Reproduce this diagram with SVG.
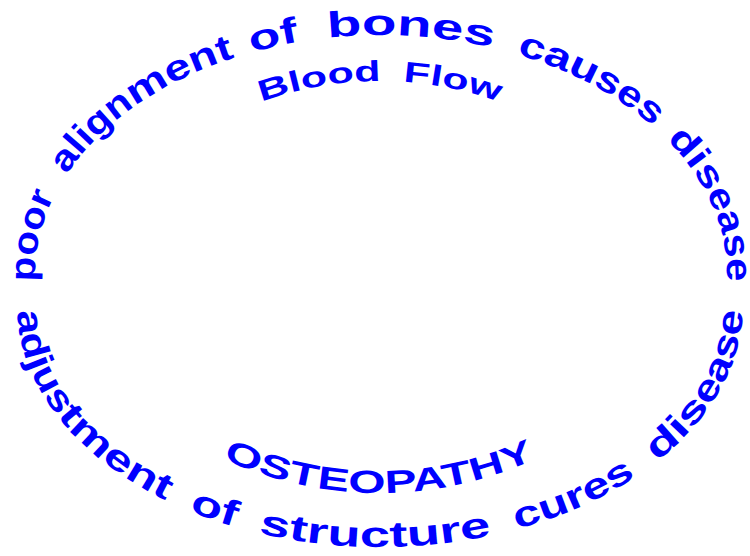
<svg xmlns="http://www.w3.org/2000/svg" xmlns:xlink="http://www.w3.org/1999/xlink" width="750" height="556" viewBox="0 0 750 556">
<style>
.t{font-family:"Liberation Sans",Arial,sans-serif;font-weight:bold;fill:#0000ff}
.o{font-size:36px}
</style>
<defs>
<path id="pu" d="M 35.119 281.281 A 346 240 0 1 1 726.881 281.281" fill="none"/>
<path id="pl" d="M 17.124 311.333 A 363 242 0 0 0 742.876 311.333" fill="none"/>
<path id="pb" d="M 156 162.5 A 348.5 348.5 0 0 1 604 162.5" fill="none"/>
<path id="po" d="M 138.6 405.5 A 374 374 0 0 0 619.4 405.5" fill="none"/>
</defs>
<rect width="750" height="556" fill="#ffffff"/>
<g id="outer-top">
<text class="t o"><textPath href="#pu" startOffset="0" textLength="88.76" lengthAdjust="spacingAndGlyphs">poor</textPath><textPath href="#pu" startOffset="95"> </textPath><textPath href="#pu" startOffset="113.04" textLength="96.99" lengthAdjust="spacingAndGlyphs">align</textPath><textPath href="#pu" startOffset="210.03" textLength="111.77" lengthAdjust="spacingAndGlyphs">ment</textPath><textPath href="#pu" startOffset="328"> </textPath><textPath href="#pu" startOffset="339.15" textLength="48.85" lengthAdjust="spacingAndGlyphs">of</textPath><textPath href="#pu" startOffset="400"> </textPath><textPath href="#pu" startOffset="416.68" textLength="166.08" lengthAdjust="spacingAndGlyphs">bones</textPath><textPath href="#pu" startOffset="593"> </textPath><textPath href="#pu" startOffset="607.26" textLength="82.20" lengthAdjust="spacingAndGlyphs">cau</textPath><textPath href="#pu" startOffset="689.46" textLength="73.74" lengthAdjust="spacingAndGlyphs">ses</textPath><textPath href="#pu" startOffset="770"> </textPath><textPath href="#pu" startOffset="781.40" textLength="66.71" lengthAdjust="spacingAndGlyphs">dis</textPath><textPath href="#pu" startOffset="848.11" textLength="92.30" lengthAdjust="spacingAndGlyphs">ease</textPath></text>
</g>
<g id="outer-bottom">
<text class="t o"><textPath href="#pl" startOffset="0" textLength="113.67" lengthAdjust="spacingAndGlyphs">adjus</textPath><textPath href="#pl" startOffset="113.67" textLength="138.72" lengthAdjust="spacingAndGlyphs">tment</textPath><textPath href="#pl" startOffset="262"> </textPath><textPath href="#pl" startOffset="277.72" textLength="48.10" lengthAdjust="spacingAndGlyphs">of</textPath><textPath href="#pl" startOffset="336"> </textPath><textPath href="#pl" startOffset="350.78" textLength="132.44" lengthAdjust="spacingAndGlyphs">struc</textPath><textPath href="#pl" startOffset="483.22" textLength="102.72" lengthAdjust="spacingAndGlyphs">ture</textPath><textPath href="#pl" startOffset="596"> </textPath><textPath href="#pl" startOffset="611.66" textLength="130.79" lengthAdjust="spacingAndGlyphs">cures</textPath><textPath href="#pl" startOffset="754"> </textPath><textPath href="#pl" startOffset="768.43" textLength="76.33" lengthAdjust="spacingAndGlyphs">dis</textPath><textPath href="#pl" startOffset="844.76" textLength="102.20" lengthAdjust="spacingAndGlyphs">ease</textPath></text>
</g>
<g id="blood-flow">
<text class="t" font-size="29" text-anchor="middle" word-spacing="7"><textPath href="#pb" startOffset="50%" textLength="242" lengthAdjust="spacingAndGlyphs">Blood Flow</textPath></text>
</g>
<g id="osteopathy">
<text class="t" font-size="32" text-anchor="middle"><textPath href="#po" startOffset="50%" textLength="322" lengthAdjust="spacingAndGlyphs">OSTEOPATHY</textPath></text>
</g>
</svg>
